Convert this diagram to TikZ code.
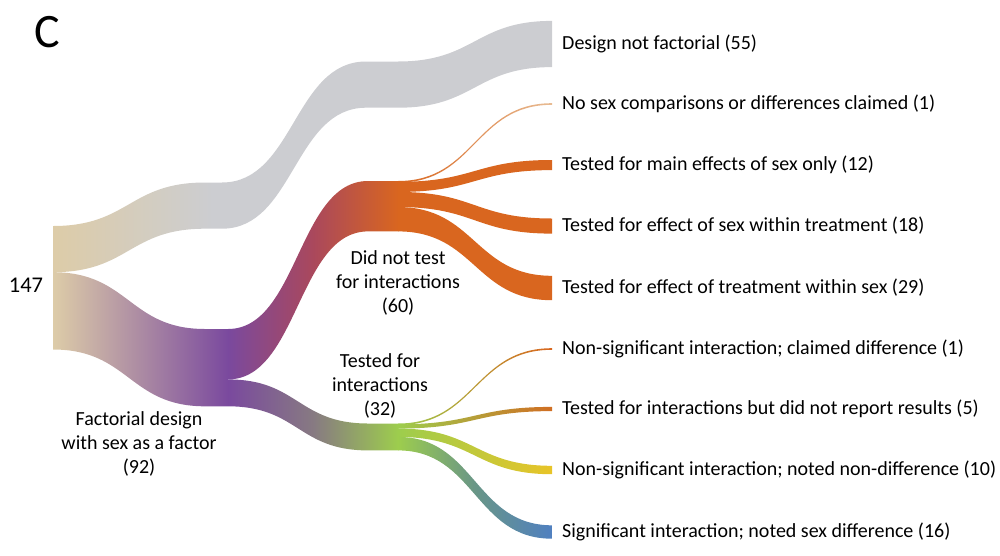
\documentclass[tikz,border=0pt]{standalone}
\usepackage{fontspec}
\setmainfont{Carlito}
\definecolor{cTan}{RGB}{221,204,168}
\definecolor{cGray}{RGB}{204,205,209}
\definecolor{cPurple}{RGB}{122,73,158}
\definecolor{cRed}{RGB}{170,72,92}
\definecolor{cMauve}{RGB}{135,122,130}
\definecolor{cOrange}{RGB}{217,102,31}
\definecolor{cLight}{RGB}{232,188,148}
\definecolor{cGreen}{RGB}{157,205,77}
\definecolor{cYellow}{RGB}{232,196,40}
\definecolor{cBlue}{RGB}{80,128,192}
\definecolor{cTeal}{RGB}{105,150,135}
\definecolor{cBrown}{RGB}{208,110,35}
\pgfdeclarehorizontalshading{grayflow}{100bp}{color(0bp)=(cTan); color(25bp)=(cTan); color(41bp)=(cGray); color(100bp)=(cGray)}
% flow band: options, x0, top0, bottom0, x1, top1, bottom1, flat end x
\newcommand{\sflow}[8]{%
  \pgfmathsetmacro{\xm}{(#2+#5)/2}%
  \path[#1] (#2,#3) .. controls (\xm,#3) and (\xm,#6) .. (#5,#6) -- (#8,#6) -- (#8,#7) -- (#5,#7)
    .. controls (\xm,#7) and (\xm,#4) .. (#2,#4) -- cycle;}
\tikzset{
  lbl/.style={anchor=west, inner sep=0pt, font=\fontsize{20}{24}\selectfont},
  mlbl/.style={align=center, inner sep=0pt, font=\fontsize{20}{24}\selectfont},
}
\begin{document}
\begin{tikzpicture}[x=1pt,y=-1pt]
\useasboundingbox (0,0) rectangle (1000,555);
% pass-through flow: design not factorial
\path[shading=grayflow] (53,226) .. controls (129,226) and (129,182.5) .. (205,182.5) -- (222,182.5)
  .. controls (294,182.5) and (294,61.5) .. (366,61.5) -- (398,61.5)
  .. controls (475,61.5) and (475,20.9) .. (552,20.9) -- (552,67.1)
  .. controls (475,67.1) and (475,107.7) .. (398,107.7) -- (366,107.7)
  .. controls (294,107.7) and (294,228.7) .. (222,228.7) -- (205,228.7)
  .. controls (129,228.7) and (129,272.2) .. (53,272.2) -- cycle;
% 147 -> factorial (92)
\sflow{left color=cTan,right color=cPurple}{53}{272.2}{349.5}{205}{329}{406.3}{228.5}
% factorial -> did not test (60)
\sflow{left color=cPurple,right color=cOrange,middle color=cRed}{228}{329}{379.4}{368}{181}{231.4}{398.5}
% factorial -> tested (32)
\sflow{left color=cPurple,right color=cGreen,middle color=cMauve}{228}{379.4}{406.3}{368}{423.5}{450.4}{398.5}
% did not test -> outcomes
\sflow{left color=cOrange,right color=cLight}{398}{181}{182.6}{552}{103.2}{104.8}{552}
\sflow{fill=cOrange}{398}{181.84}{191.94}{552}{160}{170.1}{552}
\sflow{fill=cOrange}{398}{191.94}{207.04}{552}{218.5}{233.6}{552}
\sflow{fill=cOrange}{398}{207.04}{231.4}{552}{275.8}{300.2}{552}
% tested -> outcomes
\sflow{left color=cGreen,right color=cOrange}{398}{423.5}{425.1}{552}{348.2}{349.8}{552}
\sflow{left color=cGreen,right color=cBrown}{398}{424.34}{428.54}{552}{406.9}{411.1}{552}
\sflow{left color=cGreen,right color=cYellow}{398}{428.54}{436.94}{552}{465.8}{474.2}{552}
\sflow{left color=cGreen,right color=cBlue,middle color=cTeal}{398}{436.94}{450.4}{552}{525.3}{538.7}{552}
% labels
\node[inner sep=0pt, font=\fontsize{48}{50}\selectfont] (panel) at (47,32) {C};
\node[inner sep=0pt, font=\fontsize{22.5}{26}\selectfont] (total) at (26,285) {147};
\node[mlbl] (fact) at (139,444) {Factorial design\\with sex as a factor\\(92)};
\node[mlbl] (notest) at (398,283) {Did not test\\for interactions\\(60)};
\node[mlbl] (tested) at (380,386) {Tested for\\interactions\\(32)};
\node[lbl] (o1) at (562,44) {Design not factorial (55)};
\node[lbl] (o2) at (562,104) {No sex comparisons or differences claimed (1)};
\node[lbl] (o3) at (562,165) {Tested for main effects of sex only (12)};
\node[lbl] (o4) at (562,226) {Tested for effect of sex within treatment (18)};
\node[lbl] (o5) at (562,288) {Tested for effect of treatment within sex (29)};
\node[lbl] (o6) at (562,349) {Non-significant interaction; claimed difference (1)};
\node[lbl] (o7) at (562,409) {Tested for interactions but did not report results (5)};
\node[lbl] (o8) at (562,470) {Non-significant interaction; noted non-difference (10)};
\node[lbl] (o9) at (562,532) {Significant interaction; noted sex difference (16)};
\end{tikzpicture}
\end{document}
